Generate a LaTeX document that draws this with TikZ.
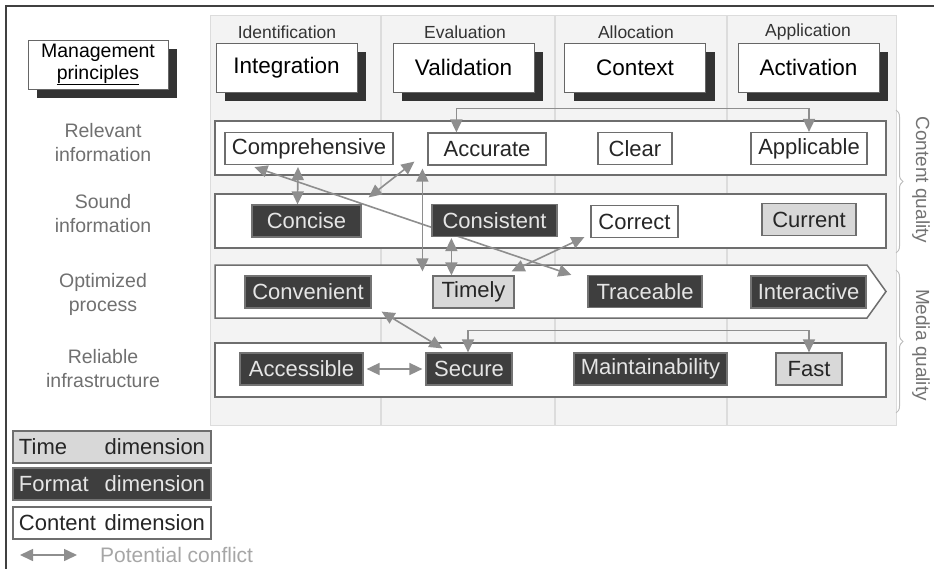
\documentclass[tikz,border=0pt]{standalone}
\usepackage{fontspec}
\setmainfont{Liberation Sans}
\usetikzlibrary{arrows.meta,     % Triangle tips
                shadows,         % shadowed principle boxes
                decorations.pathreplacing, % braces
                positioning,
               }
\definecolor{panelgray}{HTML}{F3F3F3}
\definecolor{panelline}{HTML}{DCDCDC}
\definecolor{boxline}{HTML}{6E6E6E}
\definecolor{darkfill}{HTML}{3E3E3E}
\definecolor{lightfill}{HTML}{D8D8D8}
\definecolor{arrowgray}{HTML}{8E8E8E}
\definecolor{labelgray}{HTML}{707070}
\definecolor{bracegray}{HTML}{BDBDBD}

\pgfdeclarelayer{back}
\pgfdeclarelayer{mid}
\pgfsetlayers{back,mid,main}

\tikzstyle{dim} = [rectangle, draw=boxline, line width=1.2pt, minimum height=32pt, inner sep=2pt, font=\fontsize{22}{24}\selectfont]
\tikzstyle{content} = [dim, fill=white, text=black!85]
\tikzstyle{format} = [dim, fill=darkfill, draw=black!55, text=white!90!black]
\tikzstyle{timedim} = [dim, fill=lightfill, text=black!85]
\tikzstyle{legendbox} = [minimum width=198pt, text width=186pt, inner xsep=6pt]
\tikzstyle{band} = [rectangle, draw=boxline, line width=1.5pt, fill=white, minimum width=671pt, minimum height=54pt]
\tikzstyle{principle} = [rectangle, draw=black!60, fill=white, line width=1pt, minimum width=141pt, minimum height=49pt, font=\fontsize{22.5}{26}\selectfont, drop shadow={shadow xshift=9pt, shadow yshift=-9pt, fill=black!80, opacity=1}]
\tikzstyle{phase} = [font=\fontsize{17.5}{20}\selectfont, text=black!80]
\tikzstyle{rowlabel} = [align=center, text=labelgray, font=\fontsize{19.5}{24}\selectfont]
\tikzstyle{conflict} = [<->, >={Triangle[length=13pt,width=12pt]}, draw=arrowgray, line width=1.6pt]
\tikzstyle{quality} = [rotate=-90, text=black!55, font=\fontsize{19}{22}\selectfont]

\begin{document}
\begin{tikzpicture}[x=1pt, y=-1pt]
  \useasboundingbox (0,0) rectangle (934,568);

  % frame, column panel and row bands
  \begin{pgfonlayer}{back}
    \draw[black!75, line width=2pt] (6,580) -- (6,6) -- (940,6);
    \draw[panelline, fill=panelgray] (210,15) rectangle (896,425);
    \foreach \x in {381,555,727} \draw[panelline, line width=1.5pt] (\x,15) -- (\x,425);
    \node (band1) [band] at (550.5,148) {};
    \node (band2) [band] at (550.5,221) {};
    \draw[boxline, line width=1.5pt, fill=white] (215,265) -- (867,265) -- (886,291.5) -- (867,318) -- (215,318) -- cycle;
    \node (band4) [band] at (550.5,370) {};
  \end{pgfonlayer}

  % principles
  \node (mgmt) [principle, minimum width=140pt, align=center, font=\fontsize{19.5}{22}\selectfont] at (98,64.5) {Management\\\underline{principles}};
  \node (ph1) [phase] at (287,32) {Identification};
  \node (ph2) [phase] at (465,32) {Evaluation};
  \node (ph3) [phase] at (636,32) {Allocation};
  \node (ph4) [phase] at (808,32) {Application};
  \node (integration) [principle] at (286.5,67.5) {Integration};
  \node (validation) [principle] at (463.5,67.5) {Validation};
  \node (context) [principle] at (635,67.5) {Context};
  \node (activation) [principle] at (808.5,67.5) {Activation};

  % row labels
  \node (row1) [rowlabel] at (103,143) {Relevant\\information};
  \node (row2) [rowlabel] at (103,214) {Sound\\information};
  \node (row3) [rowlabel] at (103,294) {Optimized\\process};
  \node (row4) [rowlabel] at (103,369) {Reliable\\infrastructure};

  % criteria
  \node (comprehensive) [content, minimum width=168pt] at (309,148.5) {Comprehensive};
  \node (accurate) [content, minimum width=118pt] at (487,149) {Accurate};
  \node (clear) [content, minimum width=74pt] at (635,148.5) {Clear};
  \node (applicable) [content, minimum width=116pt] at (809,148.5) {Applicable};

  \node (concise) [format, minimum width=109pt] at (306.5,221) {Concise};
  \node (consistent) [format, minimum width=125pt] at (494.5,220.5) {Consistent};
  \node (correct) [content, minimum width=87pt] at (634.5,221.5) {Correct};
  \node (current) [timedim, minimum width=94pt] at (809,219.5) {Current};

  \node (convenient) [format, minimum width=126pt] at (308,292) {Convenient};
  \node (timely) [timedim, minimum width=81pt] at (473.5,292) {Timely};
  \node (traceable) [format, minimum width=114pt] at (645,291.5) {Traceable};
  \node (interactive) [format, minimum width=115pt] at (808.5,292) {Interactive};

  \node (accessible) [format, minimum width=123pt] at (301.5,369) {Accessible};
  \node (secure) [format, minimum width=86pt] at (469,369) {Secure};
  \node (maintain) [format, minimum width=153pt] at (650.5,369) {Maintainability};
  \node (fast) [timedim, minimum width=66pt] at (809,369) {Fast};

  % potential conflicts
  \begin{pgfonlayer}{mid}
    \draw[conflict] ([xshift=29pt]accurate.north west) -- ++(0,-24) -| (applicable.north);
    \draw[conflict] ([xshift=30pt,yshift=-2pt]comprehensive.south west) -- ([xshift=-16pt]traceable.north west);
    \draw[conflict] ([xshift=-11pt,yshift=-2pt]comprehensive.south) -- ([xshift=-9pt]concise.north);
    \draw[conflict] ([xshift=-13pt,yshift=4pt]accurate.south west) -- ([xshift=7pt,yshift=7pt]concise.north east);
    \draw[conflict] ([xshift=-5pt,yshift=-3pt]accurate.south west) -- ([xshift=-10pt,yshift=4pt]timely.north west);
    \draw[conflict] ([xshift=20pt,yshift=-1pt]consistent.south west) -- ([xshift=19pt]timely.north west);
    \draw[conflict] ([xshift=-3pt,yshift=4pt]timely.north east) -- ([xshift=-6pt,yshift=1pt]correct.south west);
    \draw[conflict] ([xshift=10pt,yshift=-3pt]convenient.south east) -- ([xshift=17pt,yshift=4pt]secure.north west);
    \draw[conflict] ([xshift=-1pt]secure.north) -- ++(0,-22) -| (fast.north);
    \draw[conflict] ([xshift=3pt]accessible.east) -- ([xshift=-3pt]secure.west);
  \end{pgfonlayer}

  % quality braces
  \draw[bracegray, line width=1pt, decorate, decoration={brace, amplitude=7pt}] (896,110) -- (896,253);
  \draw[bracegray, line width=1pt, decorate, decoration={brace, amplitude=7pt}] (896,270) -- (896,413);
  \node (cq) [quality] at (921,180) {Content quality};
  \node (mq) [quality] at (921,345) {Media quality};

  % legend
  \node (lgtime) [timedim, legendbox] at (112,447) {Time\hfill dimension};
  \node (lgformat) [format, legendbox] at (112,484) {Format\hfill dimension};
  \node (lgcontent) [content, legendbox] at (112,523) {Content\hfill dimension};
  \coordinate (lgstart) at (20,555);
  \node (lgconf) [anchor=west, inner sep=0pt, text=black!35, font=\fontsize{21}{24}\selectfont] at (100,555) {Potential conflict};
  \draw[conflict] (lgstart) -- ([xshift=-23pt]lgconf.west);
\end{tikzpicture}
\end{document}
